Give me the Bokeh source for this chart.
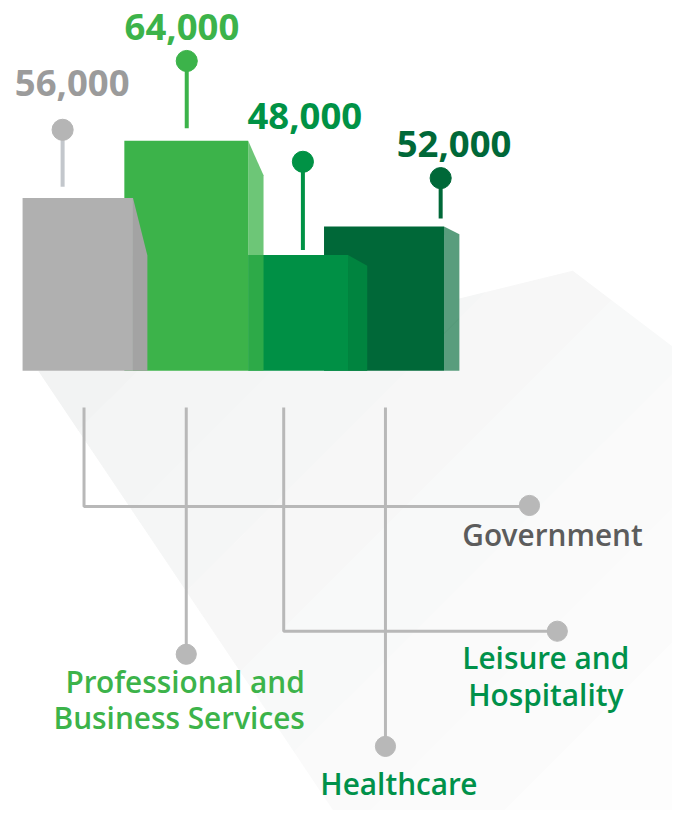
from bokeh.plotting import figure
from bokeh.models import Range1d
from bokeh.core.properties import value
from bokeh.embed import file_html
from bokeh.resources import INLINE

# ---------------- data ----------------
categories = ["Government", "Professional and Business Services",
              "Leisure and Hospitality", "Healthcare"]
values = [56000, 64000, 48000, 52000]
value_labels = ["56,000", "64,000", "48,000", "52,000"]
label_lines = [["Government"], ["Professional and", "Business Services"],
               ["Leisure and", "Hospitality"], ["Healthcare"]]

# ---------------- styles ----------------
front_colors = ["#b0b0b0", "#3cb34a", "#009045", "#006838"]
side_colors = ["#a3a3a3", "#3cb34a", "#00843f", "#006838"]
side_alpha = [1.0, 0.75, 1.0, 0.65]
value_colors = ["#9b9b9b", "#3cb34a", "#009245", "#006838"]
stem_colors = ["#c3c7cc", "#3cb34a", "#009245", "#006838"]
dot_colors = ["#b5b5b5", "#3cb34a", "#009245", "#006838"]
cat_colors = ["#5c5c5c", "#3cb34a", "#00914a", "#00914a"]
LEADER = "#b8b8b8"

# ---------------- layout (reference-pixel units) ----------------
W, H = 672, 810
S = 0.96                 # layout scale, reference px -> screen px
OY = -9                  # layout y at top of figure
BASE_PX = 376.7          # baseline row of the bars
PX_PER_UNIT = 0.00744    # layout px per job
V0 = 31800               # value at the baseline (truncated axis)

front_left = [23, 129, 258, 337]
front_right = [138, 258, 362, 462]
depth = [15, 16, 20, 16]
slant_px = [60, 36, 11, 8]

pin_x = [64.7, 194, 315, 458.5]
pin_dot_y = [125.7, 54, 159, 176]
pin_stem_bottom = [185, 124, 251, 218]
vlabel_x = [74.7, 189, 317, 472.5]
vlabel_y = [91.7, 33.3, 126, 155]
VAL_FS = 38
CAT_FS = 31
VAL_SHIFT = 14.5     # compensates the renderer's baseline placement
CAT_SHIFT = 11.5

y_bot_px = OY + H / S
p = figure(width=W, height=H, output_backend="svg", toolbar_location=None,
           x_axis_location=None, y_axis_location=None, min_border=0,
           x_range=Range1d(0, W / S),
           y_range=Range1d(V0 - (y_bot_px - BASE_PX) / PX_PER_UNIT,
                           V0 + (BASE_PX - OY) / PX_PER_UNIT))
p.extra_y_ranges = {"px": Range1d(y_bot_px, OY)}
p.outline_line_color = None
p.grid.visible = False
p.background_fill_color = "white"
p.border_fill_color = "white"


def clip(poly, a, b, c):
    """keep part of polygon with a*x + b*y <= c"""
    out = []
    n = len(poly)
    for k in range(n):
        P, Q = poly[k], poly[(k + 1) % n]
        fp = a * P[0] + b * P[1] - c
        fq = a * Q[0] + b * Q[1] - c
        if fp <= 0:
            out.append(P)
        if fp * fq < 0:
            t = fp / (fp - fq)
            out.append((P[0] + t * (Q[0] - P[0]), P[1] + t * (Q[1] - P[1])))
    return out


# shadow with a soft diagonal gradient
shadow = [(40, 377), (478, 377), (478, 302), (596, 273), (1000, 580), (1000, 900), (391, 900)]
shades = ["#f2f3f3", "#f4f5f5", "#f5f6f6", "#f7f7f7", "#f8f9f9", "#fafafa", "#fbfbfb", "#fdfdfd"]
cuts = [520, 660, 800, 940, 1080, 1220, 1360, 10000]
lo = -10000
for col, hi in zip(shades, cuts):
    band = clip(clip(shadow, 1, 1, hi), -1, -1, -lo)
    if len(band) >= 3:
        p.patch([q[0] for q in band], [q[1] for q in band], y_range_name="px",
                fill_color=col, line_color=col, line_width=1)
    lo = hi

# bars (drawn back to front)
for i in [3, 2, 1, 0]:
    v = values[i]
    p.quad(left=[front_left[i]], right=[front_right[i]], bottom=[V0], top=[v],
           fill_color=front_colors[i], line_color=None)
    r = front_right[i]
    xs = [r, r + depth[i], r + depth[i], r]
    ys = [v, v - slant_px[i] / PX_PER_UNIT, V0, V0]
    p.patch(xs, ys, fill_color=side_colors[i], fill_alpha=side_alpha[i], line_color=None)

# pins
for i in range(4):
    p.line([pin_x[i], pin_x[i]], [pin_stem_bottom[i], pin_dot_y[i]], y_range_name="px",
           line_color=stem_colors[i], line_width=4)
p.scatter(pin_x, pin_dot_y, y_range_name="px", size=22 * S, color=dot_colors)

# value labels
p.text(x=vlabel_x, y=[y - VAL_SHIFT for y in vlabel_y], text=value_labels, y_range_name="px",
       text_font=value("Open Sans"), text_font_style="bold",
       text_font_size=f"{VAL_FS * S:.1f}px",
       text_align="center", text_baseline="alphabetic", text_color=value_colors)

# leader lines
lead_xs = [[87, 87, 551], [193.5, 193.5], [295, 295, 580], [401, 401]]
lead_ys = [[415, 518, 518], [415, 672], [415, 648, 648], [415, 768]]
p.multi_line(lead_xs, lead_ys, y_range_name="px", line_color=LEADER, line_width=3)
end_x = [551, 193.5, 580, 401]
end_y = [517, 672, 648, 768]
p.scatter(end_x, end_y, y_range_name="px", size=21 * S, color=LEADER)

# category labels
cat_x = [575, 317, 568, 415]
cat_align = ["center", "right", "center", "center"]
cat_y0 = [559, 711.7, 687, 818]
LINE_GAP = 38
for i in range(4):
    lines = label_lines[i]
    p.text(x=[cat_x[i]] * len(lines),
           y=[cat_y0[i] - CAT_SHIFT + k * LINE_GAP for k in range(len(lines))],
           text=lines, y_range_name="px",
           text_font=value("Open Sans SemiBold"), text_font_size=f"{CAT_FS * S:.1f}px",
           text_align=cat_align[i], text_baseline="alphabetic", text_color=cat_colors[i])

open("out.html", "w").write(file_html(p, INLINE))
